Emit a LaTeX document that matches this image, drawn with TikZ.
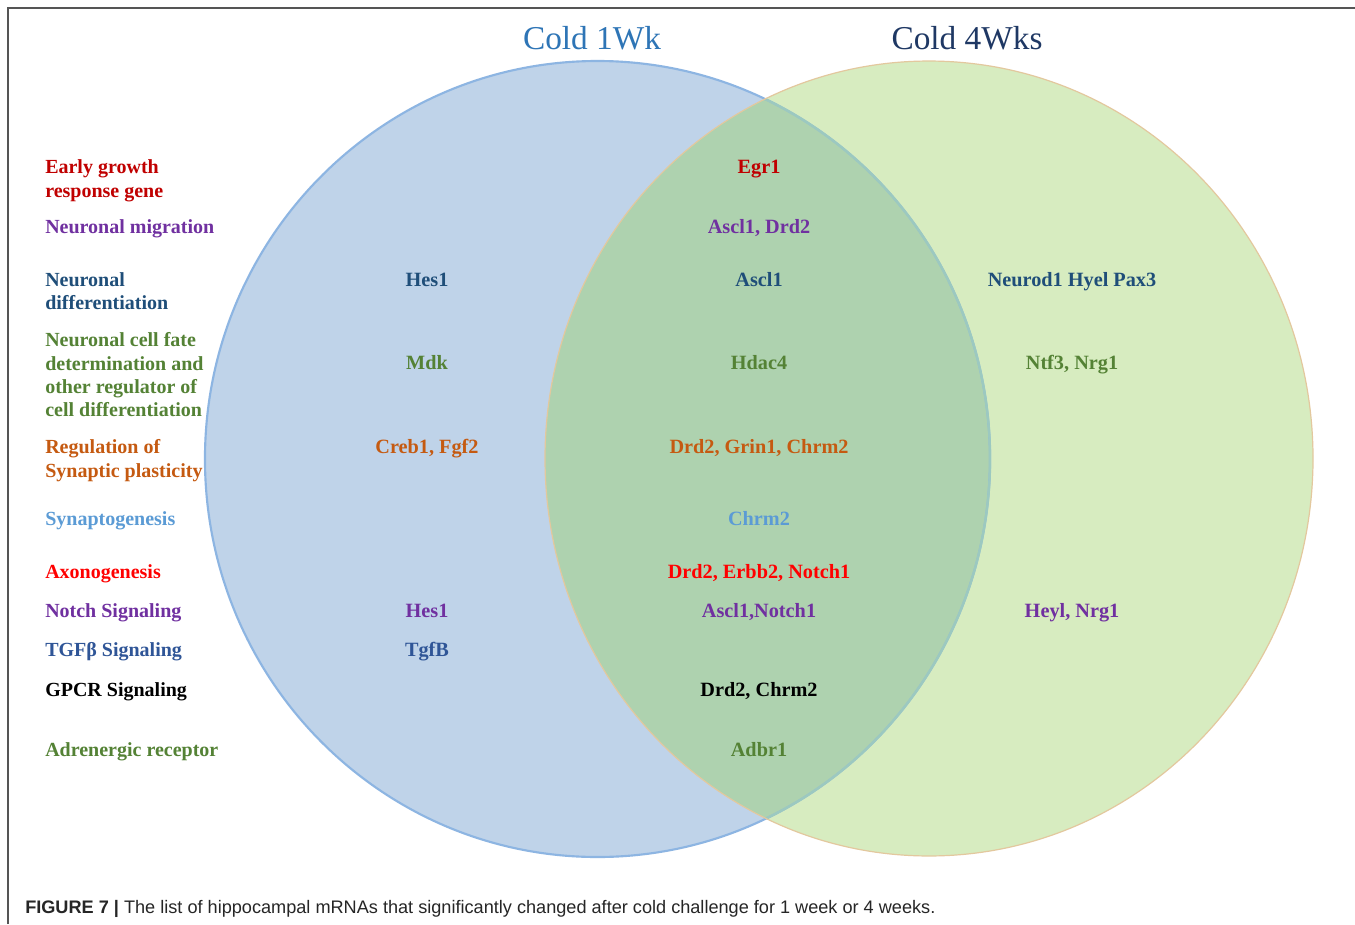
\documentclass[tikz,border=0pt]{standalone}
\usepackage{fontspec}
\setmainfont{Liberation Serif}
\setsansfont{Liberation Sans}
\begin{document}
\begin{tikzpicture}[x=0.75pt,y=-0.75pt,
  lab/.style={anchor=base west,inner sep=0pt,font=\bfseries\fontsize{15}{18}\selectfont},
  gene/.style={anchor=base,inner sep=0pt,font=\bfseries\fontsize{15.2}{18}\selectfont},
  ttl/.style={anchor=base,inner sep=0pt,font=\fontsize{25}{30}\selectfont}]
\definecolor{blueF}{HTML}{BFD3E9}
\definecolor{blueB}{HTML}{8DB5E2}
\definecolor{greenF}{HTML}{D7ECC0}
\definecolor{greenB}{HTML}{E3C89E}
\definecolor{overF}{HTML}{AED2AF}
\definecolor{tealB}{HTML}{9CC9C0}
\definecolor{cRed}{HTML}{C00000}
\definecolor{cPurple}{HTML}{7030A0}
\definecolor{cDBlue}{HTML}{1F4E79}
\definecolor{cGreen}{HTML}{548235}
\definecolor{cOrange}{HTML}{C55A11}
\definecolor{cLBlue}{HTML}{5B9BD5}
\definecolor{cBRed}{HTML}{FF0000}
\definecolor{cTBlue}{HTML}{2F5597}
\definecolor{cTitle}{HTML}{2E75B6}
\definecolor{cNavy}{HTML}{1F3864}
\definecolor{cFrame}{HTML}{555555}
\definecolor{cCap}{HTML}{262626}
\useasboundingbox (0,0) rectangle (1355,924);
\fill[white] (0,0) rectangle (1355,924);
% frame
\draw[cFrame,line width=1.1pt] (8,924) -- (8,8) -- (1355,8);
% circles
\fill[blueF] (597.5,459) ellipse [x radius=294.4pt, y radius=298.5pt];
\fill[greenF] (929,458.5) ellipse [x radius=288pt, y radius=298.1pt];
\begin{scope}
\clip (597.5,459) ellipse [x radius=294.4pt, y radius=298.5pt];
\fill[overF] (929,458.5) ellipse [x radius=288pt, y radius=298.1pt];
\end{scope}
\draw[blueB,line width=1.6pt] (597.5,459) ellipse [x radius=294.4pt, y radius=298.5pt];
\begin{scope}
\clip (929,458.5) ellipse [x radius=288pt, y radius=298.1pt];
\draw[tealB,line width=1.8pt] (597.5,459) ellipse [x radius=294.4pt, y radius=298.5pt];
\end{scope}
\draw[greenB,line width=0.9pt] (929,458.5) ellipse [x radius=288pt, y radius=298.1pt];
% titles
\node[ttl,text=cTitle] (t1) at (592,50) {Cold 1Wk};
\node[ttl,text=cNavy] (t2) at (967,50) {Cold 4Wks};
% left labels
\node[lab,text=cRed] (l1a) at (45,173) {Early growth};
\node[lab,text=cRed] (l1b) at (45,197) {response gene};
\node[lab,text=cPurple] (l2) at (45,233) {Neuronal migration};
\node[lab,text=cDBlue] (l3a) at (45,286) {Neuronal};
\node[lab,text=cDBlue] (l3b) at (45,309) {differentiation};
\node[lab,text=cGreen] (l4a) at (45,346) {Neuronal cell fate};
\node[lab,text=cGreen] (l4b) at (45,370) {determination and};
\node[lab,text=cGreen] (l4c) at (45,393) {other regulator of};
\node[lab,text=cGreen] (l4d) at (45,416) {cell differentiation};
\node[lab,text=cOrange] (l5a) at (45,453) {Regulation of};
\node[lab,text=cOrange] (l5b) at (45,477) {Synaptic plasticity};
\node[lab,text=cLBlue] (l6) at (45,525) {Synaptogenesis};
\node[lab,text=cBRed] (l7) at (45,578) {Axonogenesis};
\node[lab,text=cPurple] (l8) at (45,617) {Notch Signaling};
\node[lab,text=cTBlue] (l9) at (45,656) {TGFβ Signaling};
\node[lab,text=black] (l10) at (45,696) {GPCR Signaling};
\node[lab,text=cGreen] (l11) at (45,756) {Adrenergic receptor};
% Cold 1Wk only
\node[gene,text=cDBlue] (a3) at (427,286) {Hes1};
\node[gene,text=cGreen] (a4) at (427,369) {Mdk};
\node[gene,text=cOrange] (a5) at (427,453) {Creb1, Fgf2};
\node[gene,text=cPurple] (a8) at (427,617) {Hes1};
\node[gene,text=cTBlue] (a9) at (427,656) {TgfB};
% overlap
\node[gene,text=cRed] (b1) at (759,173) {Egr1};
\node[gene,text=cPurple] (b2) at (759,233) {Ascl1, Drd2};
\node[gene,text=cDBlue] (b3) at (759,286) {Ascl1};
\node[gene,text=cGreen] (b4) at (759,369) {Hdac4};
\node[gene,text=cOrange] (b5) at (759,453) {Drd2, Grin1, Chrm2};
\node[gene,text=cLBlue] (b6) at (759,525) {Chrm2};
\node[gene,text=cBRed] (b7) at (759,578) {Drd2, Erbb2, Notch1};
\node[gene,text=cPurple] (b8) at (759,617) {Ascl1,Notch1};
\node[gene,text=black] (b10) at (759,696) {Drd2, Chrm2};
\node[gene,text=cGreen] (b11) at (759,756) {Adbr1};
% Cold 4Wks only
\node[gene,text=cDBlue] (c3) at (1072,286) {Neurod1 Hyel Pax3};
\node[gene,text=cGreen] (c4) at (1072,369) {Ntf3, Nrg1};
\node[gene,text=cPurple] (c8) at (1072,617) {Heyl, Nrg1};
% caption
\node[anchor=base west,inner sep=0pt,text=cCap,font=\sffamily\fontsize{13.6}{16}\selectfont] (cap) at (25,913) {\textbf{FIGURE 7 |} The list of hippocampal mRNAs that significantly changed after cold challenge for 1 week or 4 weeks.};
\end{tikzpicture}
\end{document}
